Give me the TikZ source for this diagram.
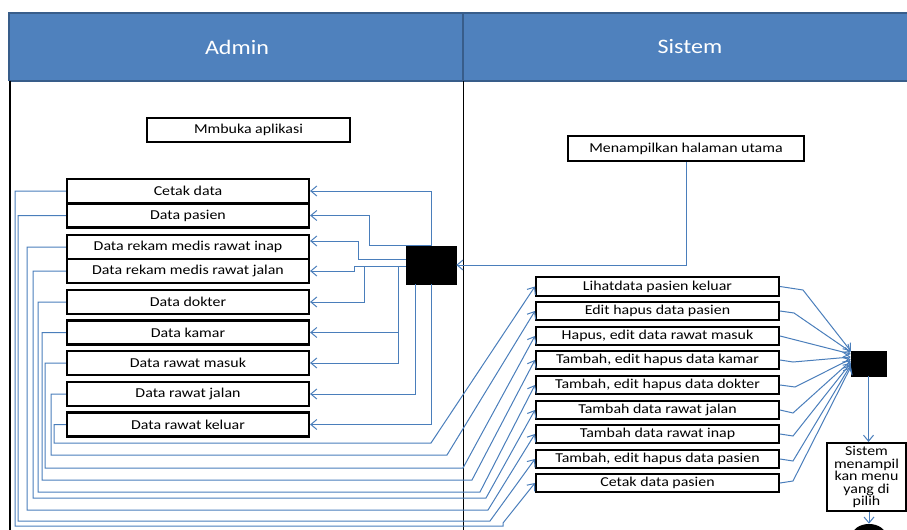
\documentclass[tikz,border=0pt]{standalone}
\usepackage{fontspec}
\setmainfont{Carlito}[FakeStretch=1.17]
\usetikzlibrary{arrows.meta,shapes.geometric}
\definecolor{headblue}{RGB}{79,129,189}
\definecolor{headedge}{RGB}{56,93,138}
\definecolor{linkblue}{RGB}{74,126,187}

\begin{document}
\begin{tikzpicture}[x=0.75pt,y=-0.75pt,
  actbox/.style={draw=black,line width=1.6pt,fill=white,inner sep=0pt,
    font=\fontsize{10.2}{12}\selectfont},
  lbox/.style={actbox,minimum width=181.5pt,minimum height=18pt},
  rbox/.style={actbox,minimum width=182.25pt,minimum height=13.9pt},
  bar/.style={fill=black,draw=black,inner sep=0pt},
  flow/.style={draw=linkblue,line width=0.75pt},
  tip/.style={flow,-{Straight Barb[length=4.5pt,width=7.5pt]}},
  lanetitle/.style={text=white,font=\fontsize{15.4}{18}\selectfont}
]
\clip (0,0) rectangle (907,529);

% swimlane header
\fill[headblue] (9,13) rectangle (920,81);
\draw[headedge,line width=1pt] (9,81) -- (9,13) -- (920,13);
\draw[headedge,line width=1pt] (9,81) -- (920,81);
\draw[headedge,line width=1pt] (463,13) -- (463,81);
\node[lanetitle] (hadmin) at (237,47) {Admin};
\node[lanetitle] (hsistem) at (690,47) {Sistem};

% lane borders
\draw[line width=1.5pt] (10,81) -- (10,540);
\draw[line width=0.75pt] (463,81) -- (463,540);

% Admin lane
\node[actbox,minimum width=152.25pt,minimum height=18pt] (open) at (248.5,130) {Mmbuka aplikasi};
\node[lbox] (l1) at (188,191) {Cetak data};
\node[lbox] (l2) at (188,215.5) {Data pasien};
\node[lbox] (l3) at (188,247) {Data rekam medis rawat inap};
\node[lbox] (l4) at (188,271) {Data rekam medis rawat jalan};
\node[lbox] (l5) at (188,302) {Data dokter};
\node[lbox] (l6) at (188,332.5) {Data kamar};
\node[lbox] (l7) at (188,363) {Data rawat masuk};
\node[lbox] (l8) at (188,394) {Data rawat jalan};
\node[lbox] (l9) at (188,424.5) {Data rawat keluar};
\node[bar,minimum width=37.5pt,minimum height=28.5pt] (fa) at (431,265) {};

% Sistem lane
\node[actbox,minimum width=177pt,minimum height=18.75pt] (home) at (686,148.5) {Menampilkan halaman utama};
\node[rbox] (r1) at (657.5,286.5) {Lihatdata pasien keluar};
\node[rbox] (r2) at (657.5,311) {Edit hapus data pasien};
\node[rbox] (r3) at (657.5,336) {Hapus, edit data rawat masuk};
\node[rbox] (r4) at (657.5,360) {Tambah, edit hapus data kamar};
\node[rbox] (r5) at (657.5,385) {Tambah, edit hapus data dokter};
\node[rbox] (r6) at (657.5,410) {Tambah data rawat jalan};
\node[rbox] (r7) at (657.5,434) {Tambah data rawat inap};
\node[rbox] (r8) at (657.5,459) {Tambah, edit hapus data pasien};
\node[rbox] (r9) at (657.5,483) {Cetak data pasien};
\node[bar,minimum width=26.25pt,minimum height=18.75pt] (fb) at (868.5,363.5) {};
\node[actbox,minimum width=59.25pt,minimum height=51pt,align=center,
  font=\fontsize{10.2}{9.4}\selectfont] (menu) at (866.5,477)
  {Sistem\\menampil\\kan menu\\yang di\\pilih};
\node[ellipse,fill=black,minimum width=25.5pt,minimum height=18pt,inner sep=0pt] (stop) at (869,536) {};

% junctions on the fork bus
\coordinate (bus) at (fa.west |- 0,266);
\coordinate (busa) at (364,266);
\coordinate (busb) at (398,266);

% home page to the fork
\draw[tip] (home.south) |- (fa.east);

% fork to the admin menu items
\draw[tip] (fa.north) |- (l1.east);
\draw[tip] (fa.north) -- ++(-62,0) |- (l2.east);
\draw[tip] (fa.west |- 0,259) -- (358,259) |- (l3.east |- 0,241);
\draw[tip] (bus) -- (354,266) |- (l4.east);
\draw[tip] (busa) |- (l5.east);
\draw[tip] (busb) |- (l6.east);
\draw[tip] (busb) |- (l7.east);
\draw[tip] (fa.south -| 415,0) |- (l8.east);
\draw[tip] (fa.south) |- (l9.east);

% admin menu items to the system actions
\draw[tip] (l1.west) -| (15,526) -- (503,526) -- (503,523) -- (r9.west);
\draw[tip] (l2.west) -| (18,521) -- (490,521) -- (r8.west);
\draw[tip] (l3.west) -| (27,510) -- (488,510) -- (r7.west);
\draw[tip] (l4.west) -| (33,498) -- (486,498) -- (r6.west);
\draw[tip] (l5.west) -| (38,492) -- (480,492) -- (r5.west);
\draw[tip] (l6.west) -| (42,480) -- (472,480) -- (r4.west);
\draw[tip] (l7.west) -| (45,468) -- (463,468) -- (r3.west);
\draw[tip] (l8.west) -| (51,455) -- (447,455) -- (r2.west);
\draw[tip] (l9.west) -| (54,443) -- (431,443) -- (r1.west);

% system actions join
\draw[tip] (r1.east) -- (803,290) -- (fb.west |- 0,351);
\draw[tip] (r2.east) -- (794,313) -- (fb.west |- 0,352);
\draw[tip] (r3.east) -- (fb.west |- 0,354);
\draw[tip] (r4.east) -- (793,362) -- (fb.west |- 0,357);
\draw[tip] (r5.east) -- (795,387) -- (fb.west |- 0,359);
\draw[tip] (r6.east) -- (793,413) -- (fb.west |- 0,361);
\draw[tip] (r7.east) -- (793,436) -- (fb.west |- 0,363);
\draw[tip] (r8.east) -- (793,461) -- (fb.west |- 0,365);
\draw[tip] (r9.east) -- (793,481) -- (fb.west |- 0,367);

% join to the menu and the end
\draw[tip] (fb.south) -- (menu.north -| fb.south);
\draw[tip] (menu.south -| stop.north) -- (stop.north);
\end{tikzpicture}
\end{document}
